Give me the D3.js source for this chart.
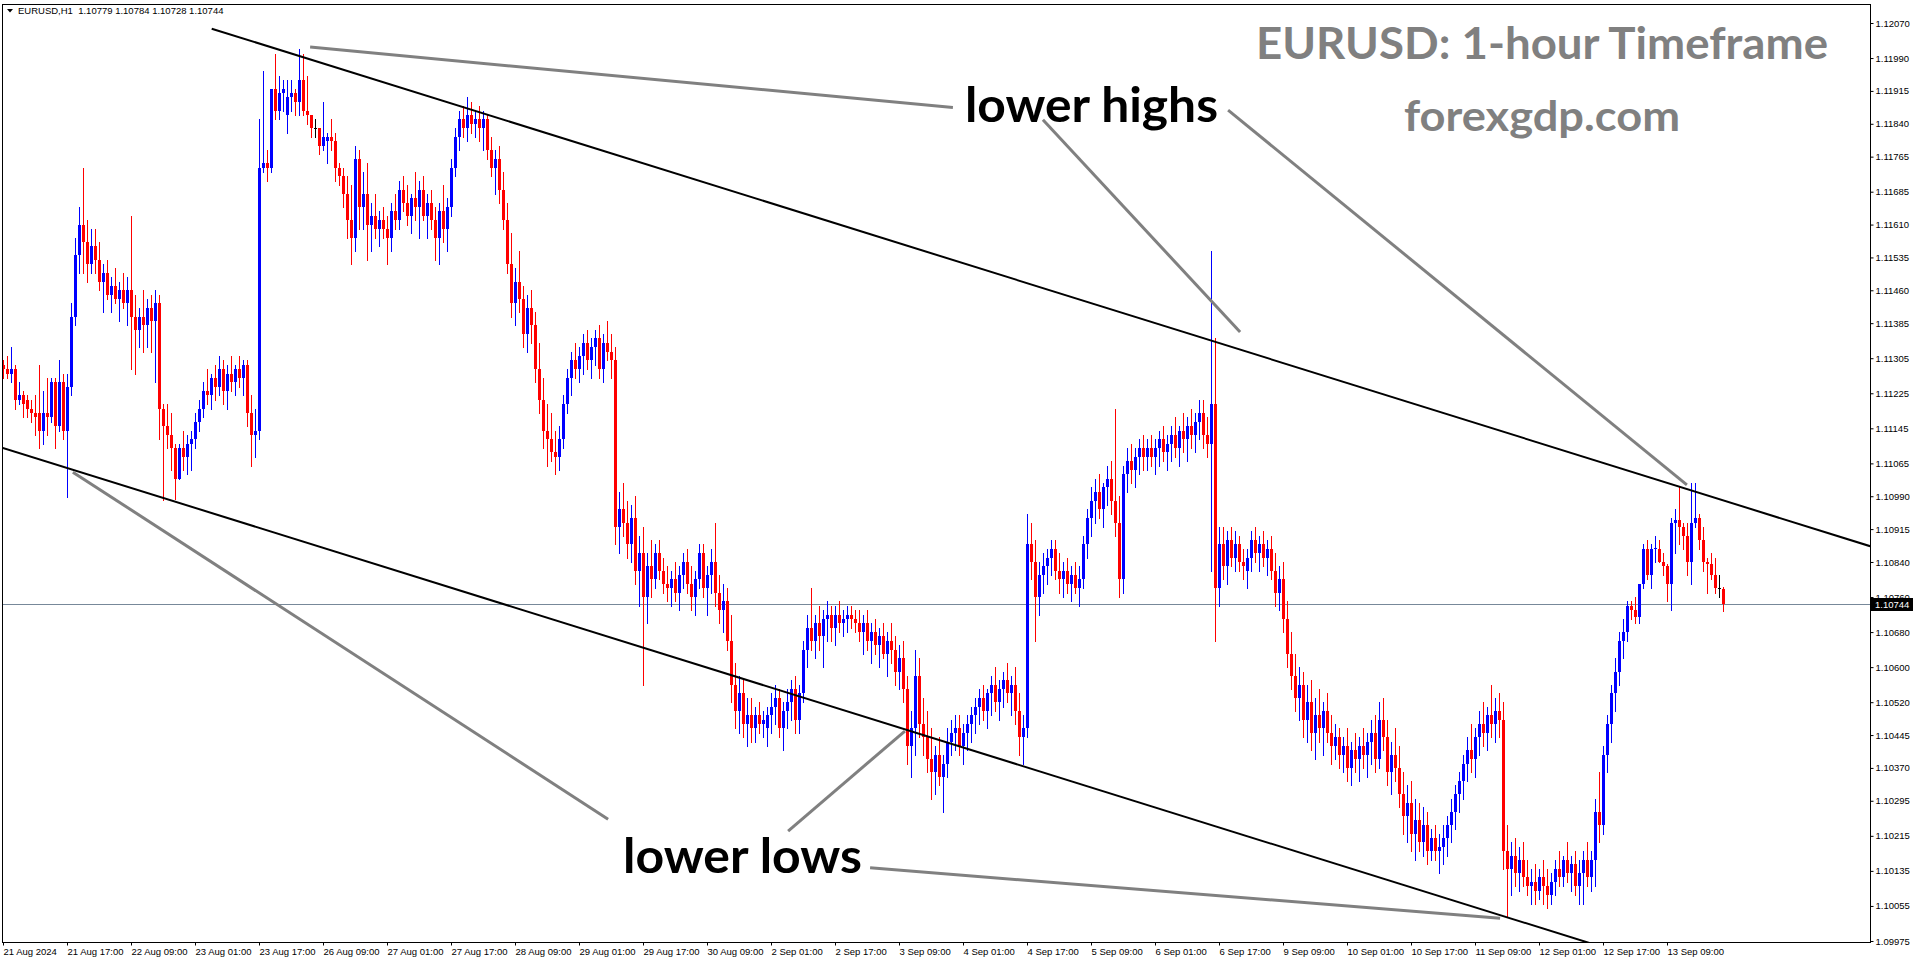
<!DOCTYPE html>
<html><head><meta charset="utf-8">
<script src="https://cdn.jsdelivr.net/npm/d3@7"></script>
<style>html,body{margin:0;padding:0;background:#fff;overflow:hidden}svg{display:block}</style>
</head><body>
<svg id="chart" width="1916" height="964"></svg>
<script>
// ---------- categories ----------
const tradingDays = ["21 Aug","22 Aug","23 Aug","26 Aug","27 Aug","28 Aug","29 Aug","30 Aug","2 Sep","3 Sep","4 Sep","5 Sep","6 Sep","9 Sep","10 Sep","11 Sep","12 Sep","13 Sep"];
const firstBarHour = 1;
const symbolName = "EURUSD,H1";

// ---------- series values (price x 10000) ----------
const opens = [
11129,11128,11127,11128,11121,11122,11121,11119,11118,11118,11114,11118,11117,11125,11115,11125,11114,11124,11140,11154,11161,11157,11152,
11156,11153,11148,11150,11145,11147,11144,11146,11143,11146,11140,11137,11140,11138,11142,11139,11143,11119,11115,11113,11110,11103,11110,11108,
11111,11112,11116,11119,11123,11122,11126,11124,11128,11123,11127,11125,11128,11126,11129,11118,11113,11114,11174,11175,11174,11192,11187,11191,
11186,11190,11191,11189,11194,11187,11186,11183,11183,11179,11180,11181,11180,11174,11172,11168,11162,11158,11176,11165,11168,11161,11163,11160,
11162,11160,11158,11164,11162,11169,11166,11163,11167,11165,11169,11163,11166,11162,11158,11164,11160,11165,11174,11181,11185,11183,11186,11184,
11185,11183,11185,11178,11174,11176,11169,11162,11152,11143,11148,11144,11136,11142,11138,11128,11121,11114,11112,11109,11108,11112,11120,11126,
11130,11128,11131,11134,11130,11133,11135,11128,11134,11132,11130,11092,11096,11093,11088,11094,11082,11086,11076,11083,11080,11086,11082,11079,
11078,11080,11077,11081,11084,11079,11076,11080,11086,11078,11081,11084,11077,11073,11075,11066,11056,11050,11054,11047,11049,11046,11049,11047,
11046,11049,11051,11053,11046,11050,11052,11055,11048,11054,11064,11069,11066,11070,11067,11071,11072,11069,11072,11070,11071,11072,11071,11070,
11068,11070,11066,11068,11065,11067,11063,11066,11064,11059,11062,11055,11042,11046,11058,11047,11044,11039,11036,11040,11035,11038,11043,11045,
11046,11042,11045,11047,11049,11051,11053,11050,11054,11056,11052,11055,11057,11054,11056,11050,11044,11046,11088,11084,11076,11081,11083,11085,
11087,11082,11080,11082,11079,11081,11078,11080,11088,11094,11098,11100,11096,11101,11103,11098,11093,11080,11104,11107,11105,11108,11110,11108,
11110,11108,11110,11112,11109,11111,11113,11110,11114,11112,11115,11113,11116,11118,11113,11111,11120,11078,11088,11083,11089,11085,11088,11084,
11082,11085,11089,11086,11088,11085,11087,11082,11077,11080,11071,11063,11058,11053,11056,11048,11052,11045,11049,11046,11050,11045,11042,11044,
11040,11042,11037,11041,11039,11042,11040,11043,11045,11039,11048,11044,11036,11040,11037,11031,11026,11029,11022,11025,11020,11024,11018,11021,
11018,11019,11021,11024,11027,11031,11034,11038,11041,11039,11044,11047,11045,11049,11047,11050,11048,11018,11014,11017,11013,11016,11012,11010,
11011,11009,11012,11010,11008,11011,11014,11012,11016,11013,11015,11010,11013,11016,11012,11016,11027,11024,11040,11047,11054,11059,11066,11068,
11074,11073,11071.5,11079,11087,11081,11087,11087,11084,11083,11079,11093,11093.5,11092,11090,11084,11093,11094,11089,11084,11083.5,11081,11078,11077.9
];
const highs = [
11130,11131,11133,11129,11125,11123,11122,11121,11122,11129,11123,11126,11126,11126,11130,11127,11127,11143,11158,11165,11174,11162,11160,
11160,11157,11152,11153,11149,11151,11148,11150,11149,11163,11145,11142,11146,11144,11145,11146,11145,11120,11120,11118,11111,11111,11114,11113,
11114,11118,11121,11125,11128,11127,11129,11131,11130,11129,11131,11129,11131,11130,11130,11122,11119,11185,11196,11178,11192,11200,11195,11194,
11194,11194,11192,11201,11200,11195,11186,11185,11183,11189,11182,11185,11182,11175,11174,11172,11170,11179,11178,11173,11175,11166,11168,11164,
11165,11163,11166,11168,11171,11172,11170,11168,11173,11171,11172,11168,11169,11165,11166,11170,11167,11176,11183,11187,11188,11190,11189,11187,
11188,11187,11186,11181,11178,11179,11173,11166,11159,11151,11155,11147,11145,11146,11141,11134,11126,11120,11118,11114,11115,11122,11128,11132,
11134,11133,11136,11137,11135,11137,11138,11136,11139,11136,11133,11100,11102,11098,11097,11099,11090,11092,11086,11089,11088,11089,11085,11083,
11082,11084,11083,11086,11087,11083,11082,11088,11088,11083,11087,11093,11081,11079,11078,11072,11061,11058,11057,11053,11053,11051,11052,11050,
11051,11054,11056,11055,11052,11055,11057,11058,11056,11066,11072,11078,11072,11074,11073,11075,11074,11074,11075,11073,11074,11074,11073,11073,
11072,11073,11070,11071,11069,11070,11068,11070,11067,11065,11066,11058,11050,11064,11062,11053,11050,11046,11042,11044,11040,11046,11048,11049,
11049,11047,11049,11051,11053,11055,11056,11055,11058,11060,11057,11059,11061,11058,11060,11054,11049,11095,11093,11089,11084,11086,11087,11089,
11089,11086,11084,11085,11083,11084,11083,11090,11096,11101,11103,11104,11102,11106,11107,11119,11099,11106,11110,11111,11110,11112,11113,11112,
11113,11112,11114,11115,11113,11115,11117,11115,11118,11117,11119,11118,11121,11121,11117,11155,11135,11092,11092,11091,11092,11091,11090,11087,
11087,11091,11092,11090,11091,11089,11090,11086,11083,11084,11075,11068,11063,11060,11059,11056,11057,11053,11055,11052,11054,11049,11047,11046,
11044,11046,11043,11045,11044,11046,11045,11048,11049,11052,11053,11048,11043,11046,11042,11036,11033,11034,11030,11029,11028,11027,11023,11024,
11022,11024,11026,11030,11033,11036,11040,11044,11047,11046,11050,11052,11051,11056,11053,11054,11052,11024,11020,11021,11019,11020,11016,11014,
11015,11014,11016,11014,11013,11016,11018,11017,11020,11017,11018,11016,11018,11020,11018,11030,11036,11042,11049,11056,11062,11068,11071,11075,
11075,11076,11079,11088,11089,11088,11090,11089,11086,11083.5,11094,11096,11101,11093,11093,11102,11102,11095,11092,11085,11086,11085,11081,11078.4
];
const lows = [
11126,11126,11125,11119,11120,11117,11117,11116,11113,11110,11111,11113,11116,11110,11114,11112,11098.8,11122,11138,11150,11150,11148,11150,
11150,11146,11141,11144,11141,11143,11139,11142,11138,11128,11127,11133,11132,11133,11132,11125,11112,11098.2,11110,11105,11098.4,11103,11105,11104,
11105,11110,11114,11117,11120,11119,11121,11122,11120,11119,11123,11122,11124,11122,11115,11106,11108,11112,11173,11171,11173,11185,11185,11187,
11182,11187,11186,11186,11186,11184,11181,11181,11177,11178,11175,11178,11171,11170,11165,11158,11152,11155,11160,11160,11153,11155,11158,11156,
11158,11152,11155,11160,11160,11164,11161,11159,11162,11158,11162,11158,11160,11153,11152,11157,11155,11163,11172,11178,11181,11180,11182,11181,
11180,11178,11176,11172,11168,11166,11160,11150,11140,11138,11141,11133,11132,11134,11125,11118,11110,11106,11107,11104,11105,11110,11118,11122,
11126,11125,11127,11128,11126,11129,11126,11125,11130,11126,11088,11086,11090,11085,11084,11079,11074,11056,11070,11076,11078,11080,11077,11075,
11074,11075,11073,11078,11077,11073,11072,11078,11076,11072,11077,11074,11070,11068,11064,11052,11046,11045,11044,11042,11043,11043,11045,11044,
11042,11045,11047,11044,11041,11046,11048,11045,11045,11052,11060,11064,11062,11064,11060,11066,11066,11065,11068,11067,11068,11069,11068,11066,
11063,11064,11061,11063,11060,11062,11058,11061,11056,11055,11052,11038,11035,11040,11044,11040,11036,11030,11031,11033,11027,11035,11040,11041,
11040,11038,11041,11043,11045,11047,11048,11046,11049,11050,11048,11051,11052,11049,11047,11040,11038,11044,11080,11066,11072,11077,11079,11081,
11080,11077,11076,11077,11075,11077,11074,11078,11085,11090,11093,11094,11092,11097,11095,11090,11076,11077,11100,11102,11101,11104,11105,11105,
11106,11104,11106,11107,11105,11107,11108,11106,11109,11107,11110,11109,11112,11110,11108,11082,11066,11074,11080,11079,11083,11082,11082,11080,
11078,11082,11084,11082,11083,11081,11080,11074,11073,11068,11060,11055,11050,11048,11044,11043,11041,11039,11043,11040,11043,11038,11039,11037,
11036,11034,11033,11036,11034,11037,11035,11038,11036,11037,11041,11033,11031,11034,11028,11022,11020,11018,11016,11018,11017,11015,11016,11016,
11013,11015,11017,11020,11023,11027,11030,11034,11036,11035,11040,11042,11041,11044,11043,11044,11014,11003,11008,11010,11009,11010,11008,11006,
11006,11007,11006,11005,11006,11008,11010,11010,11011,11009,11008,11006,11006,11010,11009,11010,11020,11022,11036,11043,11050,11056,11062,11066,
11071,11070,11070,11078,11080,11078,11084,11084,11081,11075,11073,11086,11088,11087,11081,11079,11092,11087,11082,11077,11080,11077,11076,11072.8
];
const closes = [
11128,11127,11128,11121,11122,11120,11119,11118,11117,11114,11118,11117,11125,11115,11125,11114,11124,11140,11154,11161,11157,11152,11156,
11153,11148,11150,11145,11147,11144,11146,11143,11146,11140,11137,11140,11138,11142,11139,11143,11119,11115,11113,11110,11103,11110,11108,11111,
11112,11116,11119,11123,11122,11126,11124,11128,11123,11127,11125,11128,11126,11129,11118,11113,11114,11174,11175,11174,11192,11187,11191,11192,
11190,11191,11189,11194,11187,11186,11183,11183,11179,11181,11181,11180,11174,11172,11168,11162,11158,11176,11165,11168,11161,11163,11160,11162,
11160,11158,11164,11162,11169,11166,11163,11167,11165,11169,11163,11166,11162,11158,11164,11160,11165,11174,11181,11185,11183,11186,11184,11185,
11183,11185,11178,11174,11176,11169,11162,11152,11143,11148,11144,11136,11142,11138,11128,11121,11114,11112,11109,11108,11112,11120,11126,11130,
11128,11131,11134,11130,11133,11135,11128,11134,11132,11130,11092,11096,11093,11088,11094,11082,11086,11076,11083,11080,11086,11082,11079,11078,
11080,11077,11081,11084,11079,11076,11080,11086,11078,11081,11084,11077,11073,11075,11066,11056,11050,11054,11047,11049,11046,11049,11047,11048,
11049,11051,11053,11046,11050,11052,11055,11048,11054,11064,11069,11066,11070,11067,11071,11072,11069,11072,11070,11071,11072,11071,11070,11068,
11070,11066,11068,11065,11067,11063,11066,11064,11059,11062,11055,11042,11046,11058,11047,11044,11039,11036,11040,11035,11038,11043,11045,11046,
11042,11045,11047,11049,11051,11053,11050,11054,11056,11052,11055,11057,11054,11056,11050,11044,11046,11088,11084,11076,11081,11083,11085,11087,
11082,11080,11082,11079,11081,11078,11080,11088,11094,11098,11100,11096,11101,11103,11098,11093,11080,11104,11107,11105,11108,11110,11108,11110,
11108,11110,11112,11109,11111,11113,11110,11114,11112,11115,11113,11116,11118,11113,11111,11120,11078,11088,11083,11089,11085,11088,11084,11083,
11085,11089,11086,11088,11085,11087,11082,11077,11080,11071,11063,11058,11053,11056,11048,11052,11045,11049,11046,11050,11045,11042,11044,11040,
11042,11037,11041,11039,11042,11040,11043,11045,11039,11048,11044,11036,11040,11037,11031,11026,11029,11022,11025,11020,11024,11018,11021,11018,
11019,11021,11024,11027,11031,11034,11038,11041,11039,11044,11047,11045,11049,11047,11050,11048,11018,11014,11017,11013,11016,11012,11010,11011,
11009,11012,11010,11008,11011,11014,11012,11016,11013,11015,11010,11013,11016,11012,11016,11027,11024,11040,11047,11054,11059,11066,11068,11074,
11073,11071.5,11079,11087,11081,11087,11087.3,11084,11083,11079,11093,11093.5,11092,11090,11084,11093,11094,11089,11084,11083.5,11081,11078,11078,11074.4
];

// ---------- tick labels ----------
const priceTicks = [1.12070,1.11990,1.11915,1.11840,1.11765,1.11685,1.11610,1.11535,1.11460,1.11385,1.11305,1.11225,1.11145,1.11065,1.10990,1.10915,1.10840,1.10760,1.10680,1.10600,1.10520,1.10445,1.10370,1.10295,1.10215,1.10135,1.10055,1.09975];
const timeTickLabels = ["21 Aug 2024","21 Aug 17:00","22 Aug 09:00","23 Aug 01:00","23 Aug 17:00","26 Aug 09:00","27 Aug 01:00","27 Aug 17:00","28 Aug 09:00","29 Aug 01:00","29 Aug 17:00","30 Aug 09:00","2 Sep 01:00","2 Sep 17:00","3 Sep 09:00","4 Sep 01:00","4 Sep 17:00","5 Sep 09:00","6 Sep 01:00","6 Sep 17:00","9 Sep 09:00","10 Sep 01:00","10 Sep 17:00","11 Sep 09:00","12 Sep 01:00","12 Sep 17:00","13 Sep 09:00"];

// ---------- drawn objects (bar index, price) ----------
const trendLines = [
  [[52.1, 1.12057], [466.7, 1.10876]],
  [[-0.33, 1.11101], [396.7, 1.09970]]
];
const pointerLines = [
  [[76.7, 1.12015], [237.4, 1.11877]],
  [[259.9, 1.11849], [309.2, 1.11365]],
  [[306.2, 1.11871], [420.9, 1.11016]],
  [[17.4, 1.11045], [151.2, 1.10253]],
  [[196.2, 1.10226], [225.4, 1.10454]],
  [[216.7, 1.10142], [374.2, 1.10027]]
];

// ---------- build ----------
const barTimes = [];
tradingDays.forEach((d, k) => {
  for (let h = (k === 0 ? firstBarHour : 0); h < 24; h++) barTimes.push(d + " " + String(h).padStart(2, "0") + ":00");
});
const n = Math.min(opens.length, highs.length, lows.length, closes.length);
const P = v => v / 10000;
const bars = d3.range(n).map(i => ({i, o: P(opens[i]), h: P(highs[i]), l: P(lows[i]), c: P(closes[i])}));

const frame = {left: 2, right: 1870, top: 4, bottom: 942};
const x = d3.scaleLinear().domain([0, 430]).range([3.3, 1723.3]);
const y = d3.scaleLinear().domain([1.09975, 1.12070]).range([941, 23]);

const svg = d3.select("#chart");
svg.append("rect").attr("width", 1916).attr("height", 964).attr("fill", "#ffffff");
svg.append("clipPath").attr("id", "plotClip").append("rect")
  .attr("x", frame.left).attr("y", frame.top).attr("width", frame.right - frame.left).attr("height", frame.bottom - frame.top);

const axisFont = "'Liberation Sans', Arial, sans-serif";

// current price line
const last = bars[bars.length - 1];
svg.append("line").attr("x1", frame.left).attr("x2", frame.right)
  .attr("y1", Math.round(y(last.c)) + 0.5).attr("y2", Math.round(y(last.c)) + 0.5)
  .attr("stroke", "#778899").attr("stroke-width", 1);

// candles
const colorOf = d => d.c > d.o ? "#0000ff" : (d.c < d.o ? "#ff0000" : "#000000");
const cg = svg.append("g").attr("clip-path", "url(#plotClip)").attr("shape-rendering", "crispEdges");
cg.selectAll("rect.wick").data(bars).join("rect").attr("class", "wick")
  .attr("x", d => Math.floor(x(d.i))).attr("width", 1)
  .attr("y", d => Math.round(y(d.h)))
  .attr("height", d => Math.max(1, Math.round(y(d.l)) - Math.round(y(d.h)) + 1))
  .attr("fill", colorOf);
cg.selectAll("rect.body").data(bars).join("rect").attr("class", "body")
  .attr("x", d => Math.floor(x(d.i)) - 1).attr("width", 3)
  .attr("y", d => Math.round(y(Math.max(d.o, d.c))))
  .attr("height", d => Math.max(1, Math.round(y(Math.min(d.o, d.c))) - Math.round(y(Math.max(d.o, d.c)))))
  .attr("fill", colorOf);

// trend lines
const lg = svg.append("g").attr("clip-path", "url(#plotClip)");
lg.selectAll("line.trend").data(trendLines).join("line").attr("class", "trend")
  .attr("x1", d => x(d[0][0])).attr("y1", d => y(d[0][1]))
  .attr("x2", d => x(d[1][0])).attr("y2", d => y(d[1][1]))
  .attr("stroke", "#000").attr("stroke-width", 2);
lg.selectAll("line.pointer").data(pointerLines).join("line").attr("class", "pointer")
  .attr("x1", d => x(d[0][0])).attr("y1", d => y(d[0][1]))
  .attr("x2", d => x(d[1][0])).attr("y2", d => y(d[1][1]))
  .attr("stroke", "#808080").attr("stroke-width", 3);

// frame
svg.append("path")
  .attr("d", `M${frame.left + 0.5},${frame.top + 0.5}H${frame.right + 0.5}V${frame.bottom + 0.5}H${frame.left + 0.5}Z`)
  .attr("fill", "none").attr("stroke", "#000").attr("stroke-width", 1).attr("shape-rendering", "crispEdges");

// y axis
const yAxis = svg.append("g").attr("transform", `translate(${frame.right + 0.5},0)`)
  .call(d3.axisRight(y).tickValues(priceTicks).tickSize(3).tickPadding(2).tickFormat(d3.format(".5f")));
yAxis.select(".domain").remove();
yAxis.selectAll("text").attr("font-family", axisFont).attr("font-size", "9.5px").attr("fill", "#000");
yAxis.selectAll("line").attr("stroke", "#000");

// x axis
const tickIndex = timeTickLabels.map(lbl => /\d{4}$/.test(lbl) ? barTimes.findIndex(t => t.startsWith(lbl.replace(/ \d{4}$/, ""))) : barTimes.indexOf(lbl));
const labelOf = new Map(tickIndex.map((ix, k) => [ix, timeTickLabels[k]]));
const xAxis = svg.append("g").attr("transform", `translate(0,${frame.bottom + 0.5})`)
  .call(d3.axisBottom(x).tickValues(tickIndex).tickSize(3).tickPadding(3).tickFormat(ix => labelOf.get(ix)));
xAxis.select(".domain").remove();
xAxis.selectAll(".tick").attr("transform", d => `translate(${Math.floor(x(d)) + 0.5},0)`);
xAxis.selectAll("text").attr("text-anchor", "start").attr("x", 0)
  .attr("font-family", axisFont).attr("font-size", "9.5px").attr("fill", "#000");
xAxis.selectAll("line").attr("stroke", "#000");

// price label box
const py = Math.round(y(last.c));
svg.append("rect").attr("x", frame.right + 1).attr("y", py - 6).attr("width", 42).attr("height", 13).attr("fill", "#000");
svg.append("text").attr("x", frame.right + 5).attr("y", py + 4).attr("font-family", axisFont).attr("font-size", "9.5px")
  .attr("fill", "#fff").text(d3.format(".5f")(last.c));

// header
svg.append("path").attr("d", "M7,9L13,9L10,12.5Z").attr("fill", "#000");
const f5 = d3.format(".5f");
svg.append("text").attr("x", 18).attr("y", 14).attr("font-family", axisFont).attr("font-size", "9.5px")
  .style("white-space", "pre").attr("fill", "#000")
  .text(`${symbolName}  ${f5(last.o)} ${f5(last.h)} ${f5(last.l)} ${f5(last.c)}`);

// annotations
const bold = "Lato, 'Open Sans', sans-serif";
const texts = [
  {t: "EURUSD: 1-hour Timeframe", x: 1256, y: 59, size: 44, w: 572, fill: "#808080"},
  {t: "forexgdp.com", x: 1404, y: 131, size: 42, w: 276, fill: "#808080"},
  {t: "lower highs", x: 965, y: 122, size: 48, w: 253, fill: "#000"},
  {t: "lower lows", x: 623, y: 873, size: 48, w: 239, fill: "#000"}
];
svg.selectAll("text.ann").data(texts).join("text").attr("class", "ann")
  .attr("x", d => d.x).attr("y", d => d.y).attr("font-family", bold).attr("font-weight", 700)
  .attr("font-size", d => d.size + "px").attr("fill", d => d.fill)
  .attr("textLength", d => d.w).attr("lengthAdjust", "spacingAndGlyphs").text(d => d.t);
</script>
</body></html>
